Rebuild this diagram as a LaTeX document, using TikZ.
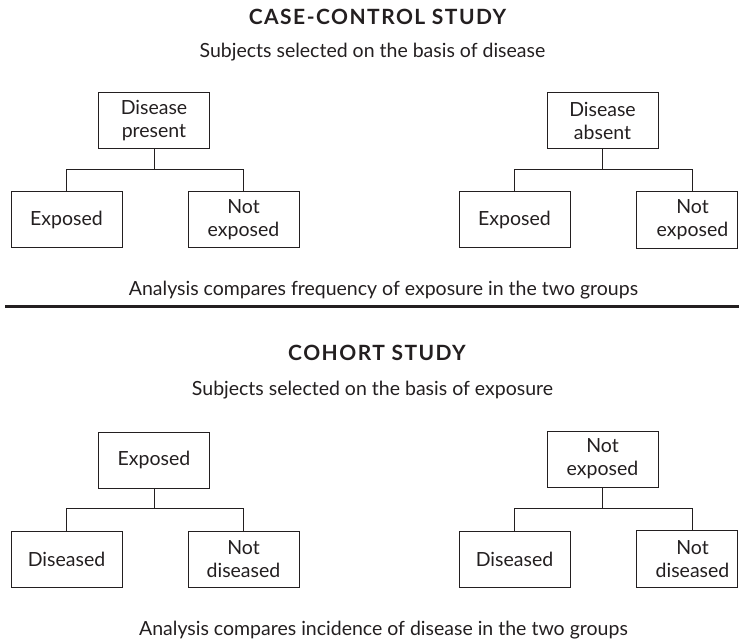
\documentclass[tikz,border=0pt]{standalone}
\usepackage{fontspec}
\setmainfont{Lato}
\definecolor{ink}{HTML}{231F20}
\begin{document}
\begin{tikzpicture}[x=1pt,y=-1pt,
  txt/.style={font=\fontsize{19.5}{23}\selectfont,text=ink,inner sep=0pt,anchor=base},
  ttl/.style={font=\fontsize{21}{23}\selectfont\bfseries\addfontfeatures{LetterSpace=7},text=ink,inner sep=0pt,anchor=base},
  box/.style={draw=ink,line width=1pt,minimum width=111pt,minimum height=56pt,
    align=center,inner sep=0pt,font=\fontsize{19.5}{23}\selectfont,text=ink},
  nobox/.style={box,draw=none},
  link/.style={draw=ink,line width=1pt},
  rule/.style={draw=ink,line width=2.4pt}]
\useasboundingbox (0,0) rectangle (739,639);
% ---------- Case-control ----------
\node[ttl] (t1) at (377.5,25) {CASE-CONTROL STUDY};
\node[txt] (s1) at (372.5,58) {Subjects selected on the basis of disease};
\node[box] (dp) at (154,120.5) {Disease\\present};
\node[box] (da) at (602.5,120.5) {Disease\\absent};
\node[box] (e1) at (66.5,220) {Exposed};
\node[box] (n1) at (243.5,220) {Not\\exposed};
\node[box] (e2) at (514.5,220) {Exposed};
\node[nobox] (n2) at (692.5,220) {Not\\exposed};
\draw[link] (n2.north west) rectangle ([xshift=-11pt]n2.south east);
\draw[link] (e1.north) -- ++(0,-22) coordinate (b1) -| (n1.north);
\draw[link] (dp.south) -- (dp.south |- b1);
\draw[link] (e2.north) -- ++(0,-22) coordinate (b2) -| (n2.north);
\draw[link] (da.south) -- (da.south |- b2);
\node[txt] (a1) at (383.5,295) {Analysis compares frequency of exposure in the two groups};
\coordinate (r0) at (5,306.5);
\coordinate (r1) at (739,306.5);
\draw[rule] (r0) -- (r1);
% ---------- Cohort ----------
\node[ttl] (t2) at (377,360) {COHORT STUDY};
\node[txt] (s2) at (372.5,395) {Subjects selected on the basis of exposure};
\node[box] (ex) at (154,460) {Exposed};
\node[box] (ne) at (602.5,459) {Not\\exposed};
\node[box] (d1) at (66.5,559) {Diseased};
\node[box] (nd1) at (243.5,559) {Not\\diseased};
\node[box] (d2) at (514.5,559) {Diseased};
\node[nobox] (nd2) at (692.5,559) {Not\\diseased};
\draw[link] (nd2.north west) rectangle ([xshift=-11pt]nd2.south east);
\draw[link] (d1.north) -- ++(0,-22) coordinate (b3) -| (nd1.north);
\draw[link] (ex.south) -- (ex.south |- b3);
\draw[link] (d2.north) -- ++(0,-22) coordinate (b4) -| (nd2.north);
\draw[link] (ne.south) -- (ne.south |- b4);
\node[txt] (a2) at (383.5,635) {Analysis compares incidence of disease in the two groups};
\end{tikzpicture}
\end{document}
